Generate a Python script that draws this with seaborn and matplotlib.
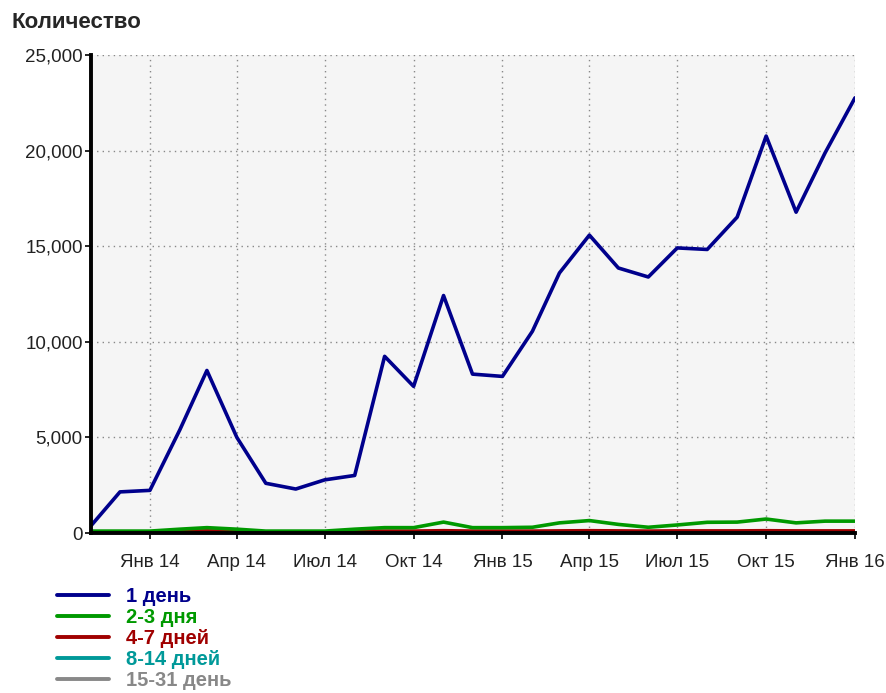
import pandas as pd
import seaborn as sns
import matplotlib
matplotlib.use("Agg")
import matplotlib.pyplot as plt
import matplotlib.dates as mdates
from matplotlib.ticker import FuncFormatter, MultipleLocator
from matplotlib.lines import Line2D

# monthly points, Nov 2013 .. Jan 2016
months = pd.date_range("2013-11-01", "2016-01-01", freq="MS")

day_1 = [380, 2150, 2230, 5400, 8500, 5000, 2600, 2300, 2780, 3010, 9240, 7670,
         12420, 8310, 8190, 10550, 13600, 15580, 13860, 13390, 14910, 14830,
         16520, 20760, 16780, 19880, 22760]
days_2_3 = [100, 100, 100, 200, 280, 200, 100, 100, 100, 200, 280, 280,
            570, 280, 280, 300, 530, 650, 450, 300, 420, 560, 570, 730, 530, 620, 620]
days_4_7 = [30, 30, 40, 90, 110, 90, 50, 40, 50, 90, 100, 100,
            120, 100, 100, 100, 110, 120, 110, 100, 110, 110, 110, 120, 110, 110, 110]
days_8_14 = [10, 10, 15, 20, 25, 20, 15, 10, 15, 20, 25, 25,
             30, 25, 25, 25, 30, 30, 30, 25, 30, 30, 30, 30, 30, 30, 30]
days_15_31 = [5, 5, 5, 10, 10, 10, 5, 5, 5, 10, 10, 10,
              15, 10, 10, 10, 15, 15, 15, 10, 15, 15, 15, 15, 15, 15, 15]

series_names = ["1 день", "2-3 дня", "4-7 дней", "8-14 дней", "15-31 день"]
series_colors = ["#00008c", "#009900", "#a00000", "#009999", "#888888"]
month_names = ["Янв", "Фев", "Мар", "Апр", "Май", "Июн",
               "Июл", "Авг", "Сен", "Окт", "Ноя", "Дек"]

frames = []
for name, vals in zip(series_names, [day_1, days_2_3, days_4_7, days_8_14, days_15_31]):
    frames.append(pd.DataFrame({"date": months, "value": vals, "series": name}))
df = pd.concat(frames, ignore_index=True)

sns.set_style("white")
plt.rcParams["font.family"] = ["Liberation Sans", "DejaVu Sans"]

fig = plt.figure(figsize=(8.87, 6.93), dpi=100)
ax = fig.add_axes([91 / 887, 1 - 533 / 693, (855 - 91) / 887, (533 - 55) / 693])
ax.set_facecolor("#f5f5f5")

# draw small series first so the blue one is on top
draw_order = list(reversed(series_names))
sns.lineplot(data=df, x="date", y="value", hue="series", hue_order=draw_order,
             palette=dict(zip(series_names, series_colors)), linewidth=2.6,
             legend=False, ax=ax)

ax.set_xlim(months[0], months[-1])
ax.set_ylim(0, 25000)
ax.yaxis.set_major_locator(MultipleLocator(5000))
ax.yaxis.set_major_formatter(FuncFormatter(lambda v, p: f"{int(v):,}"))
ax.xaxis.set_major_locator(mdates.MonthLocator(bymonth=[1, 4, 7, 10]))
ax.xaxis.set_major_formatter(FuncFormatter(
    lambda v, p: f"{month_names[mdates.num2date(v).month - 1]} {mdates.num2date(v).year % 100:02d}"))

ax.grid(True, linestyle=(0, (1, 3)), color="#888888", linewidth=1)
ax.set_xlabel("")
ax.set_ylabel("")

for side in ["top", "right"]:
    ax.spines[side].set_visible(False)
for side in ["left", "bottom"]:
    ax.spines[side].set_color("black")
    ax.spines[side].set_linewidth(2.8)

ax.tick_params(axis="both", which="major", length=4, width=1.2, color="black",
               labelsize=13.5, labelcolor="#222222", direction="out",
               left=True, bottom=True)
ax.tick_params(axis="x", pad=11)
ax.tick_params(axis="y", pad=2)

fig.text(12 / 887, 1 - 22 / 693, "Количество", fontsize=16, fontweight="bold",
         va="center", ha="left")

handles = [Line2D([0], [0], color=c, linewidth=2.8) for c in series_colors]
fig.legend(handles, series_names, loc="upper left",
           bbox_to_anchor=(57 / 887, 1 - 587 / 693), frameon=False,
           prop={"weight": "bold", "size": 14.5}, labelcolor=series_colors,
           handlelength=2.6, handletextpad=0.85, labelspacing=0.1,
           borderaxespad=0, borderpad=0)

fig.savefig("out.png", dpi=100)
